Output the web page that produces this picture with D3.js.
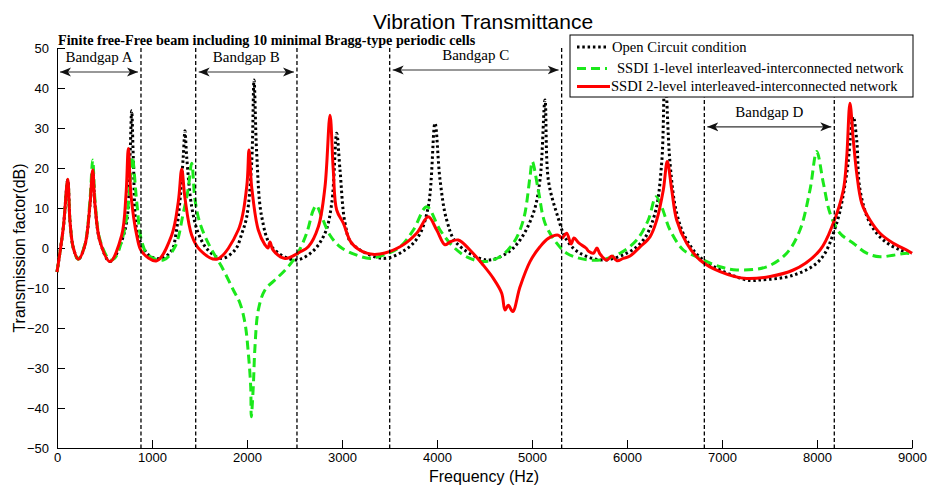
<!DOCTYPE html>
<html>
<head>
<meta charset="utf-8">
<script src="https://cdn.jsdelivr.net/npm/d3@7"></script>
<style>
  body { margin: 0; background: #fff; }
  .axis text { font-family: "Liberation Sans", Arial, sans-serif; font-size: 13px; fill: #000; }
  .axis path, .axis line { stroke: #000; stroke-width: 1; }
</style>
</head>
<body>
<div id="chart"></div>
<script>
// Frequency (Hz), transmission factor (dB)
var openCircuit = [
  [0, -6], [66, 5], [113, 17], [137, 6.6], [172, 0], [224, -2.8], [295, 0.8], [347, 10.8],
  [376, 19], [400, 10.8], [453, 1.6], [558, -3.4], [716, 4.5], [768, 22.8], [786, 34.3],
  [803, 22.8], [839, 4.5], [892, 0.8], [979, -2], [1102, -2.6], [1210, -0.5], [1253, 3.7],
  [1295, 12], [1329, 22.8], [1347, 29.3], [1365, 22.8], [1418, 10.3], [1487, 3.7],
  [1589, -0.5], [1734, -2.6], [1874, -0.5], [1947, 3.7], [1997, 7.8], [2049, 21.2],
  [2074, 42], [2102, 23.7], [2155, 7.8], [2260, 0.3], [2505, -3], [2684, -1], [2821, 3.7],
  [2892, 11.2], [2944, 28.7], [2979, 19.5], [3032, 6.2], [3102, 1.2], [3432, -2.6],
  [3663, -0.5], [3803, 2.8], [3908, 10.3], [3979, 31.2], [4032, 17], [4102, 7], [4207, 1.2],
  [4523, -3], [4734, -1.3], [4874, 2], [5014, 8.7], [5084, 17], [5137, 37], [5172, 17],
  [5260, 8.7], [5365, 2], [5505, -1.3], [5751, -3], [5997, -1.3], [6172, 2], [6295, 8.7],
  [6365, 21.2], [6400, 44], [6453, 21.2], [6523, 8.7], [6628, 2], [6803, -3], [7260, -8],
  [7400, -8], [7751, -6.8], [8032, -3], [8207, 6.2], [8313, 18.7], [8382, 32.8], [8418, 27],
  [8453, 14.5], [8558, 6.2], [8698, 2], [8874, -0.5], [9000, -1.3]
];

var ssdi1Level = [
  [0, -6], [66, 5], [113, 17], [137, 6.6], [172, 0], [224, -2.8], [295, 1], [347, 12],
  [376, 22], [400, 12], [453, 2], [558, -3], [610, -2.5], [684, 2], [737, 8.2], [768, 15.7],
  [793, 22.8], [839, 11.6], [892, 1.6], [961, -1.8], [1119, -3], [1242, 0.3], [1329, 8.7],
  [1379, 14.5], [1418, 21.2], [1453, 12], [1505, 6.2], [1611, 0.3], [1734, -4.7],
  [1856, -10.5], [1926, -13.8], [1979, -18.8], [2014, -26.3], [2039, -34.7], [2045, -42.2],
  [2066, -34.7], [2084, -24.7], [2119, -15.5], [2189, -10.5], [2313, -7.6], [2418, -5.1],
  [2523, -1.8], [2628, 3.7], [2698, 9.5], [2730, 10.6], [2786, 7.8], [2874, 3.2], [2979, 0.3],
  [3155, -1.8], [3295, -2.6], [3435, -1.8], [3611, 0.3], [3751, 4.5], [3892, 10.3],
  [4032, 4.5], [4172, 0.3], [4313, -2.2], [4487, -3.4], [4663, -2.2], [4803, 1.2], [4909, 7],
  [4979, 17.8], [5003, 21.6], [5066, 14.5], [5137, 6.2], [5260, 1.2], [5365, -1.3],
  [5505, -2.6], [5716, -3], [5926, -1.3], [6102, 2], [6224, 7], [6305, 12.8], [6365, 10.3],
  [6453, 4.5], [6593, -0.5], [6734, -2.2], [6803, -3], [6979, -4.7], [7155, -5.5],
  [7470, -4.7], [7681, -1.3], [7821, 4.5], [7926, 14.5], [7997, 24.1], [8067, 16.2],
  [8137, 8.7], [8242, 3.7], [8382, 1.2], [8523, -1.3], [8663, -2.2], [8803, -1.8],
  [8944, -1.3], [9000, -1.5]
];

var ssdi2Level = [
  [0, -6], [66, 5], [113, 17.2], [137, 6.6], [172, 0], [224, -2.8], [295, 0.8], [347, 10.8],
  [376, 19.5], [400, 10.8], [453, 1.6], [558, -3.4], [681, 3.2], [726, 13.2], [751, 24.9],
  [779, 13.2], [839, 3.2], [892, -0.9], [1049, -3.2], [1207, 3.2], [1277, 11.6], [1313, 19.7],
  [1347, 12.5], [1418, 3.2], [1505, -0.5], [1681, -2.8], [1908, 4.5], [1997, 15.3],
  [2021, 24.5], [2049, 15.3], [2119, 4.5], [2189, 0.8], [2221, 0], [2242, 1.5], [2274, -0.5],
  [2400, -2.6], [2558, -1], [2645, 0.3], [2751, 5.3], [2821, 15.3], [2874, 33.2], [2908, 19.5],
  [2944, 9.5], [3014, 6.2], [3102, 1.2], [3260, -1.3], [3400, -1.5], [3611, 0.3], [3786, 3.7],
  [3908, 7.8], [3997, 4.5], [4084, 0.8], [4137, 1.5], [4224, 2], [4347, -0.5], [4487, -4.3],
  [4593, -7.6], [4681, -11.3], [4716, -15.5], [4751, -14.3], [4797, -15.9], [4874, -9.7],
  [4979, -3.4], [5084, 0.3], [5172, 2.4], [5277, 3.2], [5316, 2.5], [5365, 3.7], [5411, 1],
  [5442, 2.5], [5495, 1.2], [5568, 0], [5600, -0.9], [5646, -1.3], [5684, 0], [5716, -1.5],
  [5786, -3], [5842, -2], [5895, -3.2], [5961, -2.6], [6032, -2], [6137, 0.3], [6242, 2.8],
  [6313, 7], [6382, 14.5], [6424, 21.6], [6471, 14.5], [6523, 7], [6628, 1.2], [6768, -3],
  [6979, -5.9], [7260, -7.6], [7751, -5.5], [8032, -0.5], [8171, 6.2], [8277, 14.5],
  [8313, 22.8], [8347, 36.2], [8382, 27], [8418, 18.7], [8471, 11.2], [8558, 7], [8663, 3.7],
  [8803, 1.2], [8944, -0.5], [9000, -1.3]
];

var seriesNames = ['Open Circuit condition', 'SSDI 1-level interleaved-interconnected network', 'SSDI 2-level interleaved-interconnected network'];

// bandgap bounds (Hz) and the level (dB) of each double arrow
var bandgapNames = ['Bandgap A', 'Bandgap B', 'Bandgap C', 'Bandgap D'];
var bandgapStart = [0, 1460, 3502, 6814];
var bandgapEnd = [884, 2526, 5312, 8182];
var bandgapLevel = [44, 44, 44.5, 30.3];

var xTicks = [0, 1000, 2000, 3000, 4000, 5000, 6000, 7000, 8000, 9000];
var yTicks = [-50, -40, -30, -20, -10, 0, 10, 20, 30, 40, 50];

// size
var width = 930;
var height = 485;
var margin = { top: 48, right: 18, bottom: 37, left: 57 };

var svg = d3.select('#chart').append('svg')
  .attr('width', width)
  .attr('height', height);

// scales
var x = d3.scaleLinear()
  .domain([0, 9000])
  .range([margin.left, width - margin.right]);

var y = d3.scaleLinear()
  .domain([-50, 50])
  .range([height - margin.bottom, margin.top]);

// axes, ticks pointing inside like matlab
svg.append('g')
  .attr('class', 'axis x')
  .attr('transform', 'translate(0,' + y(-50) + ')')
  .call(d3.axisBottom(x).tickValues(xTicks).tickFormat(d3.format('d'))
    .tickSizeInner(-8).tickSizeOuter(0).tickPadding(5));

svg.append('g')
  .attr('class', 'axis y')
  .attr('transform', 'translate(' + x(0) + ',0)')
  .call(d3.axisLeft(y).tickValues(yTicks).tickSizeInner(-8).tickSizeOuter(0).tickPadding(8));

// curves
var line = d3.line()
  .x(d => x(d[0]))
  .y(d => y(d[1]))
  .curve(d3.curveCatmullRom.alpha(0.5));

var styles = [
  { color: '#000', dash: '2.5,2.8', width: 3 },
  { color: '#1be81b', dash: '9,5', width: 3 },
  { color: '#ff0000', dash: null, width: 3 }
];

[openCircuit, ssdi1Level, ssdi2Level].forEach(function (data, i) {
  svg.append('path')
    .datum(data)
    .attr('fill', 'none')
    .attr('stroke', styles[i].color)
    .attr('stroke-width', styles[i].width)
    .attr('stroke-dasharray', styles[i].dash)
    .attr('stroke-linejoin', 'round')
    .attr('d', line);
});

// bandgap edges
var edges = bandgapStart.concat(bandgapEnd).filter(d => d > 0);
svg.append('g')
  .selectAll('line')
  .data(edges)
  .enter().append('line')
  .attr('x1', d => x(d))
  .attr('x2', d => x(d))
  .attr('y1', y(50))
  .attr('y2', y(-50))
  .attr('stroke', '#000')
  .attr('stroke-width', 1.3)
  .attr('stroke-dasharray', '4,2.5');

// arrow heads
var defs = svg.append('defs');
defs.append('marker')
  .attr('id', 'head')
  .attr('markerUnits', 'userSpaceOnUse')
  .attr('markerWidth', 12)
  .attr('markerHeight', 10)
  .attr('refX', 11)
  .attr('refY', 5)
  .attr('orient', 'auto-start-reverse')
  .append('path')
  .attr('d', 'M0,0.5 L11,5 L0,9.5 L3,5 Z')
  .attr('fill', '#111');

var gaps = svg.append('g')
  .selectAll('g')
  .data(bandgapNames)
  .enter().append('g');

gaps.append('line')
  .attr('x1', (d, i) => x(bandgapStart[i]) + 3)
  .attr('x2', (d, i) => x(bandgapEnd[i]) - 3)
  .attr('y1', (d, i) => y(bandgapLevel[i]))
  .attr('y2', (d, i) => y(bandgapLevel[i]))
  .attr('stroke', '#333')
  .attr('stroke-width', 1.2)
  .attr('marker-start', 'url(#head)')
  .attr('marker-end', 'url(#head)');

gaps.append('text')
  .attr('x', (d, i) => (x(bandgapStart[i]) + x(bandgapEnd[i])) / 2)
  .attr('y', (d, i) => y(bandgapLevel[i]) - 10)
  .attr('text-anchor', 'middle')
  .style('font-family', '"Liberation Serif", "Times New Roman", serif')
  .style('font-size', '15px')
  .text(d => d);

// legend
var legend = svg.append('g')
  .attr('transform', 'translate(570,35)');

legend.append('rect')
  .attr('width', 343)
  .attr('height', 62)
  .attr('fill', '#fff')
  .attr('stroke', '#000')
  .attr('stroke-width', 1);

var rowY = [12, 33.5, 51.5];
var textX = [42, 47, 41];
seriesNames.forEach(function (name, i) {
  legend.append('line')
    .attr('x1', 7)
    .attr('x2', i == 2 ? 40 : 37)
    .attr('y1', rowY[i])
    .attr('y2', rowY[i])
    .attr('stroke', styles[i].color)
    .attr('stroke-width', styles[i].width)
    .attr('stroke-dasharray', styles[i].dash);
  legend.append('text')
    .attr('x', textX[i])
    .attr('y', rowY[i])
    .attr('dy', '0.33em')
    .style('font-family', '"Liberation Serif", "Times New Roman", serif')
    .style('font-size', '14.6px')
    .text(name);
});

// titles
svg.append('text')
  .attr('x', 483)
  .attr('y', 29)
  .attr('text-anchor', 'middle')
  .style('font-family', '"Liberation Sans", Arial, sans-serif')
  .style('font-size', '21px')
  .text('Vibration Transmittance');

svg.append('text')
  .attr('x', 58)
  .attr('y', 45)
  .style('font-family', '"Liberation Serif", "Times New Roman", serif')
  .style('font-size', '14.2px')
  .style('font-weight', 'bold')
  .text('Finite free-Free beam including 10 minimal Bragg-type periodic cells');

svg.append('text')
  .attr('transform', 'translate(25,' + y(0) + ') rotate(-90)')
  .attr('text-anchor', 'middle')
  .style('font-family', '"Liberation Sans", Arial, sans-serif')
  .style('font-size', '16px')
  .text('Transmission factor(dB)');

svg.append('text')
  .attr('x', 484)
  .attr('y', 482)
  .attr('text-anchor', 'middle')
  .style('font-family', '"Liberation Sans", Arial, sans-serif')
  .style('font-size', '16px')
  .text('Frequency (Hz)');
</script>
</body>
</html>
